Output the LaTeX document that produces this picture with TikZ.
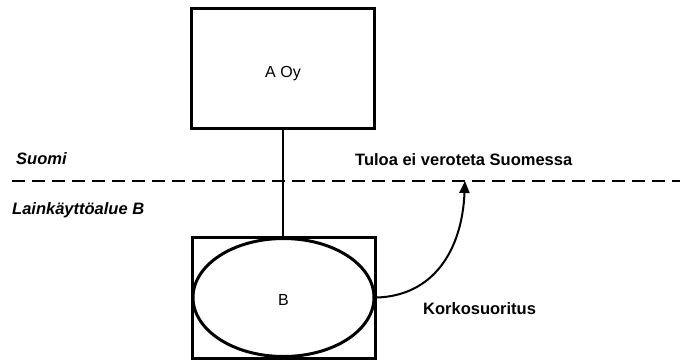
\documentclass[tikz,border=0pt]{standalone}
\usepackage{fontspec}
\setmainfont{Liberation Sans}
\usetikzlibrary{arrows.meta,shapes.geometric}
\begin{document}
\begin{tikzpicture}[x=1pt,y=-1pt,
  entity/.style={draw,line width=3pt,minimum width=183pt,minimum height=120pt,inner sep=0pt,font=\fontsize{16}{18}\selectfont},
  region/.style={anchor=base west,inner sep=0pt,font=\fontsize{16.5}{18}\selectfont\bfseries\itshape},
  note/.style={anchor=base west,inner sep=0pt,font=\fontsize{16.5}{18}\selectfont\bfseries},
  border/.style={line width=1.4pt,dash pattern=on 13pt off 7pt},
  flow/.style={line width=2pt,-{Triangle[length=12pt,width=10pt]}}]
\useasboundingbox (0,0) rectangle (680,360);
\fill[white] (0,0) rectangle (680,360);

% companies
\node[entity] (aoy) at (283,68) {};
\node[font=\fontsize{16}{18}\selectfont,anchor=base,inner sep=0pt] (aoylabel) at (283,77) {A Oy};
\node[entity,minimum height=121pt] (bbox) at (283.5,297.5) {};
\node[draw,ellipse,line width=3pt,minimum width=181pt,minimum height=118pt,inner sep=0pt] (bell) at (283.5,297.5) {};
\node[font=\fontsize{16}{18}\selectfont,anchor=base,inner sep=0pt] (blabel) at (283.5,305) {B};

% jurisdiction border
\coordinate (bl) at (12,181);
\coordinate (br) at (680,181);
\draw[border] (bl) -- (br);
\node[region] (fi) at (16,164) {Suomi};
\node[region] (jb) at (12,214) {Lainkäyttöalue B};

% ownership link
\draw[line width=1.4pt] (aoy.south) -- (aoy.south |- bbox.north);

% interest payment
\coordinate (tip) at (465,181);
\draw[flow] (bbox.east) .. controls (432,296) and (462,252) .. (tip);
\node[note] (tax) at (355,165) {Tuloa ei veroteta Suomessa};
\node[note] (pay) at (423,314) {Korkosuoritus};
\end{tikzpicture}
\end{document}
